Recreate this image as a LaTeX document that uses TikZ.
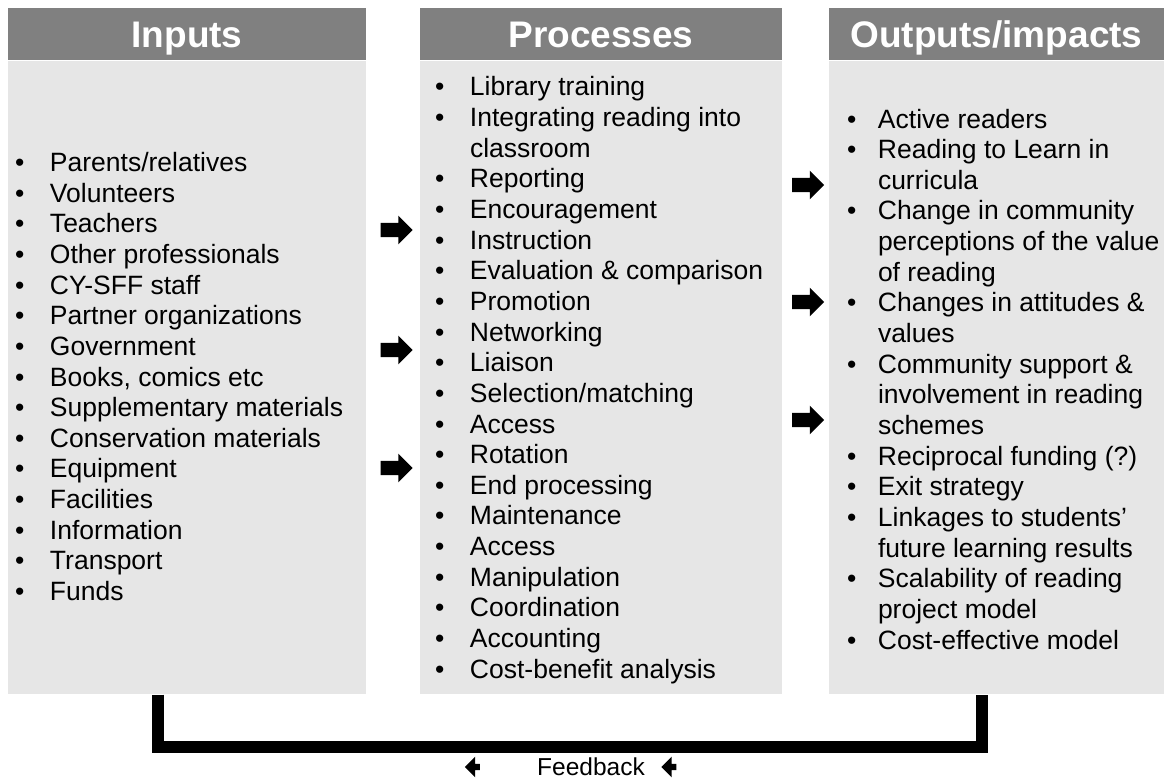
\documentclass[tikz,border=0pt]{standalone}
\usepackage{fontspec}
\setmainfont{Liberation Sans}
\usetikzlibrary{positioning,shapes.arrows}
\definecolor{headgray}{HTML}{808080}
\definecolor{bodygray}{HTML}{E6E6E6}
% one bulleted line, and the follow-on line of a bullet
\newcommand{\bulline}[1]{\textbullet & #1\\}
\newcommand{\moreline}[1]{& #1\\}
\tikzset{%
    headbox/.style={fill=headgray, text=white, inner sep=0pt,
        text height=31pt, text depth=3pt,
        minimum height=52pt, font=\fontsize{37}{40}\selectfont\bfseries},
    bodybox/.style={fill=bodygray, inner sep=0pt, minimum height=633pt},
    listtext/.style={inner sep=0pt, anchor=west,
        font=\fontsize{26.5}{30.65}\selectfont},
    blockarrow/.style={single arrow, fill=black, inner xsep=0pt, inner ysep=7pt,
        minimum height=32pt, minimum width=28pt},
    fbarrow/.style={single arrow, fill=black, inner xsep=0pt, inner ysep=3pt,
        minimum height=15pt, minimum width=13pt, shape border rotate=180},
    fbline/.style={line width=12pt, line join=miter}
}

\begin{document}
\begin{tikzpicture}[x=1pt, y=1pt]
\useasboundingbox (0,0) rectangle (1166,-781);

% column heads
\node[headbox, minimum width=358pt] (inhead) at (187,-34) {Inputs};
\node[headbox, minimum width=362pt] (prochead) at (601,-34) {Processes};
\node[headbox, minimum width=335pt] (outhead) at (996.5,-34) {Outputs/impacts};

% column bodies
\node[bodybox, minimum width=358pt, below=1pt of inhead] (inbody) {};
\node[bodybox, minimum width=362pt, below=1pt of prochead] (procbody) {};
\node[bodybox, minimum width=335pt, below=1pt of outhead] (outbody) {};

% lists
\node[listtext] (inlist) at ([xshift=7pt, yshift=-2pt]inbody.west) {%
\begin{tabular}{@{}p{35pt}@{}l@{}}
\bulline{Parents/relatives}
\bulline{Volunteers}
\bulline{Teachers}
\bulline{Other professionals}
\bulline{CY-SFF staff}
\bulline{Partner organizations}
\bulline{Government}
\bulline{Books, comics etc}
\bulline{Supplementary materials}
\bulline{Conservation materials}
\bulline{Equipment}
\bulline{Facilities}
\bulline{Information}
\bulline{Transport}
\bulline{Funds}
\end{tabular}};

\node[listtext] (proclist) at ([xshift=15pt, yshift=-3pt]procbody.west) {%
\begin{tabular}{@{}p{35pt}@{}l@{}}
\bulline{Library training}
\bulline{Integrating reading into}
\moreline{classroom}
\bulline{Reporting}
\bulline{Encouragement}
\bulline{Instruction}
\bulline{Evaluation \& comparison}
\bulline{Promotion}
\bulline{Networking}
\bulline{Liaison}
\bulline{Selection/matching}
\bulline{Access}
\bulline{Rotation}
\bulline{End processing}
\bulline{Maintenance}
\bulline{Access}
\bulline{Manipulation}
\bulline{Coordination}
\bulline{Accounting}
\bulline{Cost-benefit analysis}
\end{tabular}};

\node[listtext] (outlist) at ([xshift=18pt, yshift=-4.5pt]outbody.west) {%
\begin{tabular}{@{}p{31pt}@{}l@{}}
\bulline{Active readers}
\bulline{Reading to Learn in}
\moreline{curricula}
\bulline{Change in community}
\moreline{perceptions of the value}
\moreline{of reading}
\bulline{Changes in attitudes \&}
\moreline{values}
\bulline{Community support \&}
\moreline{involvement in reading}
\moreline{schemes}
\bulline{Reciprocal funding (?)}
\bulline{Exit strategy}
\bulline{Linkages to students’}
\moreline{future learning results}
\bulline{Scalability of reading}
\moreline{project model}
\bulline{Cost-effective model}
\end{tabular}};

% arrows between the columns
\foreach \y [count=\i] in {230,350,468}
    \node[blockarrow] (inarr\i) at (393,-\y) {};
\foreach \y [count=\i] in {185,302,420}
    \node[blockarrow] (outarr\i) at (804.5,-\y) {};

% feedback loop
\draw[fbline] ([xshift=150pt]inbody.south west) -- ++(0,-52)
    -| ([xshift=153pt]outbody.south west);
\node[inner sep=0pt, font=\fontsize{24.5}{28}\selectfont] (fbtext) at (591,-767) {Feedback};
\node[fbarrow, left=57pt of fbtext] (fbarr1) {};
\node[fbarrow, right=16pt of fbtext] (fbarr2) {};
\end{tikzpicture}
\end{document}
